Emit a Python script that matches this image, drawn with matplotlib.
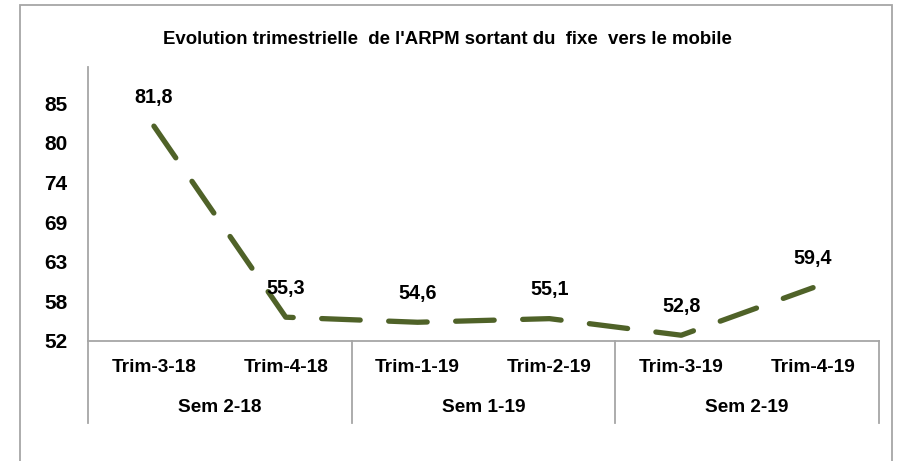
import matplotlib
matplotlib.use("Agg")
import matplotlib.pyplot as plt
from matplotlib.patches import Rectangle
import matplotlib.transforms as mtransforms

quarters = ["Trim-3-18", "Trim-4-18", "Trim-1-19", "Trim-2-19", "Trim-3-19", "Trim-4-19"]
semesters = ["Sem 2-18", "Sem 1-19", "Sem 2-19"]
values = [81.8, 55.3, 54.6, 55.1, 52.8, 59.4]
value_labels = ["81,8", "55,3", "54,6", "55,1", "52,8", "59,4"]
ytick_values = [52, 57.5, 63, 68.5, 74, 79.5, 85]
ytick_labels = ["52", "58", "63", "69", "74", "80", "85"]
title = "Evolution trimestrielle  de l'ARPM sortant du  fixe  vers le mobile"

W, H = 897, 461
plt.rcParams['font.family'] = ['Liberation Sans', 'DejaVu Sans']
fig = plt.figure(figsize=(W / 100, H / 100), dpi=100)

# outer frame
fig.patches.append(Rectangle((20 / W, -0.05), (892 - 20) / W, 1.05 - 5 / H,
                             transform=fig.transFigure, fill=False,
                             edgecolor="#A6A6A6", linewidth=1.3))

ax_l, ax_r = 88 / W, 879 / W
ax_b, ax_t = 1 - 341 / H, 1 - 67 / H
ax = fig.add_axes([ax_l, ax_b, ax_r - ax_l, ax_t - ax_b])

x = list(range(len(values)))
ax.plot(x, values, color="#4F6228", linewidth=3.8, linestyle=(0, (7.3, 5.4)),
        solid_capstyle="round", dash_capstyle="round", dash_joinstyle="round")
ax.set_xlim(-0.5, len(values) - 0.5)
ax.set_ylim(52, 90)

for xi, v, lab in zip(x, values, value_labels):
    ax.annotate(lab, (xi, v), xytext=(0, 29), textcoords="offset pixels",
                ha="center", va="center", fontsize=14.2, fontweight="bold", color="black")

ax.set_yticks(ytick_values)
ax.set_yticklabels(ytick_labels, fontsize=15, fontweight="bold")
ax.tick_params(axis="y", length=0, pad=15)
ax.set_xticks([])
for s in ["top", "right"]:
    ax.spines[s].set_visible(False)
for s in ["left", "bottom"]:
    ax.spines[s].set_color("#A6A6A6")
    ax.spines[s].set_linewidth(1.3)

# multi-level category axis
trans = mtransforms.blended_transform_factory(ax.transData, ax.transAxes)
axh = (341 - 67)
y_q = -(368 - 341) / axh
y_s = -(408 - 341) / axh
y_end = -(423 - 341) / axh
for xi, q in zip(x, quarters):
    ax.text(xi, y_q, q, transform=trans, ha="center", va="center",
            fontsize=13.7, fontweight="bold")
for gi, s in enumerate(semesters):
    ax.text(2 * gi + 0.5, y_s, s, transform=trans, ha="center", va="center",
            fontsize=13.7, fontweight="bold")
for b in [-0.5, 1.5, 3.5, 5.5]:
    ax.plot([b, b], [0, y_end], transform=trans, color="#A6A6A6",
            linewidth=1.3, clip_on=False)

fig.text(447 / W, 1 - 40 / H, title, ha="center", va="center",
         fontsize=13.4, fontweight="bold")

fig.savefig("out.png", dpi=100)
